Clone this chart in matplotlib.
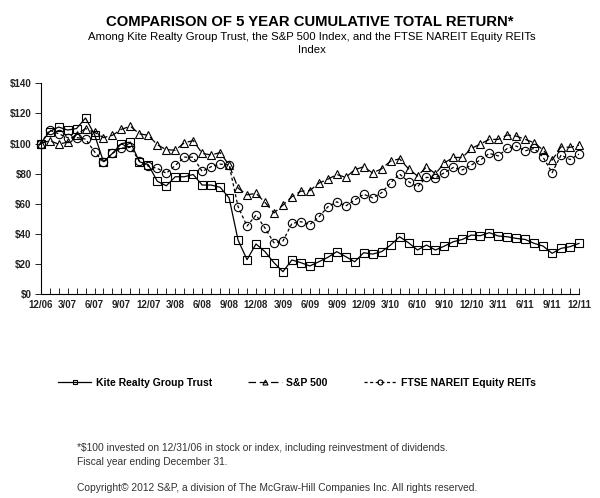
import matplotlib
matplotlib.use('Agg')
import matplotlib.pyplot as plt
from matplotlib.ticker import MultipleLocator, FixedLocator

plt.rcParams['font.family'] = ['Liberation Sans', 'DejaVu Sans']

# ── Datos (índice mensual, $100 invertidos el 12/31/06) ─────────────────────
month_labels = ['12/06', '3/07', '6/07', '9/07', '12/07', '3/08', '6/08',
                '9/08', '12/08', '3/09', '6/09', '9/09', '12/09', '3/10',
                '6/10', '9/10', '12/10', '3/11', '6/11', '9/11', '12/11']

kite = [100, 108, 111, 109, 110, 117, 106, 88, 93.5, 100, 101, 88, 86,
        75, 72, 78, 78, 79.5, 72.5, 72.5, 71, 64, 36, 23, 33.4, 28.3, 21,
        15, 22.8, 21, 18.8, 21.6, 24.5, 28.3, 25, 21.6, 27.6, 26.7, 28.3,
        32.7, 38.2, 34.2, 29.4, 32.7, 29.4, 32, 34.9, 36.4, 39.3, 38.9,
        40.9, 38.7, 38.2, 37.1, 36.4, 33.8, 32, 27.2, 30.5, 31.6, 33.8]

sp500 = [100, 102, 99.6, 101, 106, 110, 107.5, 104, 105.5, 109.5, 111.5,
         106.5, 105.5, 99.2, 96, 95.6, 100.5, 102, 93.5, 92.5, 94, 85.8,
         70.5, 66, 67, 61, 54, 59.2, 64.8, 68.4, 68.8, 73.8, 76.3, 79.5,
         77.6, 82.7, 84.6, 80.5, 83.3, 88.4, 89.9, 83.3, 78.5, 84.5, 80,
         87.3, 90.8, 90.8, 96.8, 99.7, 102.8, 102.8, 105.7, 105, 102.8,
         100.6, 95.7, 89, 97.9, 97.5, 99]

nareit = [100, 109, 106.5, 104, 104, 103, 94.6, 87.5, 93.5, 97, 97.5, 88.5,
          85, 83.6, 80.3, 85.5, 91, 91, 81.5, 84.7, 86.4, 85.8, 58.2, 45.3,
          52.6, 44, 34.2, 35.3, 47, 48.2, 46.3, 51.3, 58, 61.4, 58.6, 62.6,
          66.4, 64, 67.4, 74, 79.8, 74.7, 71.4, 77.6, 77.2, 80.7, 84.2, 82.5,
          85.8, 89.1, 93.5, 91.8, 96.8, 98.4, 95.2, 96.8, 90.9, 80.7, 92.4,
          89.4, 93]

y_ticks = [0, 20, 40, 60, 80, 100, 120, 140]

months = list(range(len(kite)))

fig = plt.figure(figsize=(6.0, 4.98), dpi=100)
ax = fig.add_axes([0.0678, 0.409, 0.8972, 0.4237])

mk = dict(markersize=6, markeredgewidth=0.8, fillstyle='none',
          color='black', clip_on=False)
l1, = ax.plot(months, kite, marker='s', ls='-', lw=0.9, **mk)
l2, = ax.plot(months, sp500, marker='^', ls=(0, (6, 3)), lw=0.9, **mk)
l3, = ax.plot(months, nareit, marker='o', ls=(0, (2.5, 2)), lw=0.9, **mk)

ax.set_xlim(0, len(kite) - 1)
ax.set_ylim(y_ticks[0], y_ticks[-1])
ax.set_yticks(y_ticks)
ax.set_yticklabels([f'${v}' for v in y_ticks])
ax.xaxis.set_major_locator(FixedLocator(range(0, len(kite), 3)))
ax.set_xticklabels(month_labels)
ax.xaxis.set_minor_locator(MultipleLocator(1))

for s in ['top', 'right']:
    ax.spines[s].set_visible(False)
for s in ['left', 'bottom']:
    ax.spines[s].set_linewidth(0.8)

ax.tick_params(axis='x', which='both', direction='in', length=4,
               width=0.6, labelsize=7, pad=4)
ax.tick_params(axis='y', direction='out', length=4, width=0.6,
               labelsize=7, pad=2.5)
for lab in ax.get_xticklabels() + ax.get_yticklabels():
    lab.set_fontweight('bold')
    lab.set_color('#222222')

# ── Títulos ────────────────────────────────────────────────────────────────
fig.text(0.517, 1 - 22 / 498, 'COMPARISON OF 5 YEAR CUMULATIVE TOTAL RETURN*',
         ha='center', va='center', fontsize=10.7, fontweight='bold')
fig.text(0.52, 1 - 36.5 / 498,
         'Among Kite Realty Group Trust, the S&P 500 Index, and the FTSE NAREIT Equity REITs',
         ha='center', va='center', fontsize=8.2)
fig.text(0.52, 1 - 50 / 498, 'Index', ha='center', va='center', fontsize=8.2)

# ── Leyenda ────────────────────────────────────────────────────────────────
leg = fig.legend([l1, l2, l3],
                 ['Kite Realty Group Trust', 'S&P 500', 'FTSE NAREIT Equity REITs'],
                 loc='center', bbox_to_anchor=(0.495, 1 - 383 / 498), ncol=3,
                 frameon=False, handlelength=3.2, columnspacing=3.5,
                 handletextpad=0.4, prop=dict(size=7.5, weight='bold'),
                 markerscale=0.6)

# ── Notas ──────────────────────────────────────────────────────────────────
note_kw = dict(ha='left', va='center', fontsize=7.35, color='#333333')
fig.text(77 / 600, 1 - 448 / 498,
         '*$100 invested on 12/31/06 in stock or index, including reinvestment of dividends.',
         **note_kw)
fig.text(77 / 600, 1 - 461.5 / 498, 'Fiscal year ending December 31.', **note_kw)
fig.text(77 / 600, 1 - 488 / 498,
         'Copyright\u00a9 2012 S&P, a division of The McGraw-Hill Companies Inc. All rights reserved.',
         **note_kw)

fig.savefig('out.png', dpi=100)
